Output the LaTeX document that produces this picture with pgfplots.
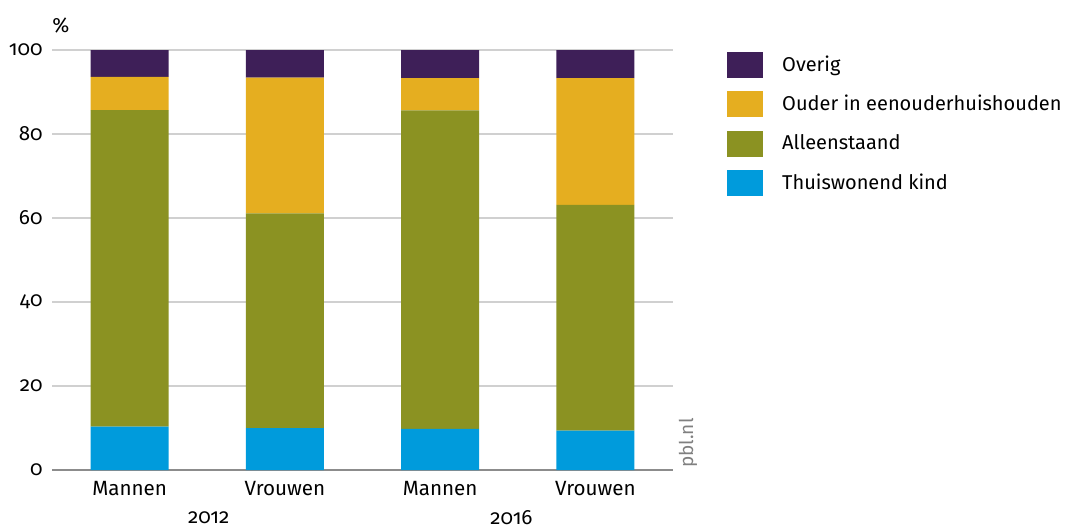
\documentclass[border=0pt]{standalone}
\usepackage{fontspec}
\setmainfont{Fira Sans}[Numbers=OldStyle]
\usepackage{pgfplots}
\pgfplotsset{compat=1.18}
\definecolor{cPurple}{HTML}{3E1F58}
\definecolor{cYellow}{HTML}{E5AE20}
\definecolor{cGreen}{HTML}{8B9222}
\definecolor{cBlue}{HTML}{009BDC}
\definecolor{cGrid}{HTML}{D0D0D0}
\definecolor{cAxis}{HTML}{8C8C8C}
\begin{document}
\begin{tikzpicture}[font=\fontsize{10.3}{12.4}\selectfont]
\path[use as bounding box] (-26pt,-30.5pt) rectangle (507pt,235pt);
\begin{axis}[
  at={(0,0)}, anchor=south west, scale only axis,
  width=310.5pt, height=210pt, clip=false,
  ybar stacked, bar width=0.503,
  xmin=-0.5, xmax=3.5, ymin=0, ymax=100,
  xtick={0,1,2,3}, xticklabels={Mannen,Vrouwen,Mannen,Vrouwen},
  ytick={0,20,40,60,80,100},
  ymajorgrids, grid style={draw=cGrid, line width=0.6pt},
  axis x line*=bottom, axis y line*=left,
  y axis line style={draw=none},
  x axis line style={draw=cAxis, line width=0.6pt},
  major tick length=0pt, tick style={draw=none},
  /pgf/number format/assume math mode=true,
  yticklabel style={anchor=east, inner sep=0pt, xshift=-4.5pt},
  xticklabel style={yshift=-2pt},
  reverse legend,
  legend style={draw=none, fill=none, at={(1.077,1.006)}, anchor=north west,
    row sep=6.75pt, column sep=9.5pt, nodes={inner sep=0pt},
    font=\fontsize{10}{12}\selectfont},
  legend cell align=left,
  legend image code/.code={\fill[#1] (0pt,-6.5pt) rectangle (18pt,6.5pt);},
]
\addplot[fill=cBlue, draw=none] coordinates {(0,10.3) (1,10.0) (2,9.8) (3,9.4)};
\addplot[fill=cGreen, draw=none] coordinates {(0,75.4) (1,51.1) (2,75.8) (3,53.7)};
\addplot[fill=cYellow, draw=none] coordinates {(0,7.9) (1,32.3) (2,7.7) (3,30.2)};
\addplot[fill=cPurple, draw=none] coordinates {(0,6.4) (1,6.6) (2,6.7) (3,6.7)};
\legend{Thuiswonend kind, Alleenstaand, Ouder in eenouderhuishouden, Overig}
\node[anchor=center] at (axis cs:0.51,0) [yshift=-24pt] {2012};
\node[anchor=center] at (axis cs:2.46,0) [yshift=-24pt] {2016};
\node[anchor=west, inner sep=0pt] at (axis description cs:0,1) [yshift=12.5pt] {\%};
\node[rotate=90, text=gray, font=\fontsize{9.5}{11}\selectfont] at (axis description cs:1.024,0.064) {pbl.nl};
\end{axis}
\end{tikzpicture}
\end{document}
